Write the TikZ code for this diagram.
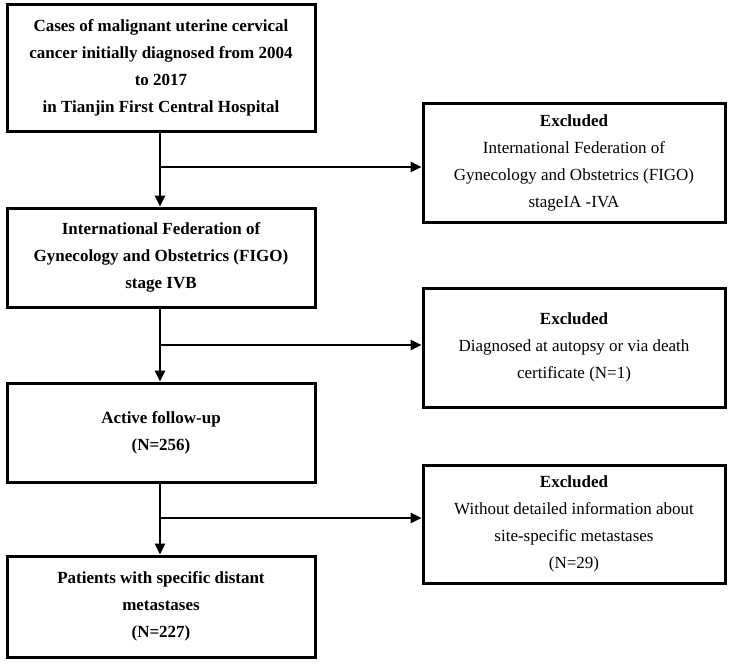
\documentclass[tikz,border=0pt]{standalone}
\usepackage{fontspec}
\setmainfont{Liberation Serif}
\usetikzlibrary{arrows.meta}
\begin{document}
\begin{tikzpicture}[x=1pt,y=1pt,
  box/.style={draw=black,line width=3pt,align=center,inner sep=0pt,
    font=\fontsize{17}{27}\selectfont},
  lbox/.style={box,minimum width=308pt},
  rbox/.style={box,minimum width=302pt},
  conn/.style={line width=2.5pt,-{Triangle[length=11pt,width=10pt]}},
  plain/.style={line width=2.5pt}]
\useasboundingbox (0,0) rectangle (732,-664);
\node[lbox,minimum height=127pt] (b1) at (161,-67.5) {\bfseries Cases of malignant uterine cervical\\ \bfseries cancer initially diagnosed from 2004\\ \bfseries to 2017\\ \bfseries in Tianjin First Central Hospital};
\node[lbox,minimum height=99pt] (b2) at (161,-257.5) {\bfseries International Federation of\\ \bfseries Gynecology and Obstetrics (FIGO)\\ \bfseries stage IVB};
\node[lbox,minimum height=99pt] (b3) at (161,-432.5) {\bfseries Active follow-up\\ \bfseries (N=256)};
\node[lbox,minimum height=101pt] (b4) at (161,-606.5) {\bfseries Patients with specific distant\\ \bfseries metastases\\ \bfseries (N=227)};
\node[rbox,minimum height=119pt] (r1) at (574,-162.5) {\bfseries Excluded\\ International Federation of\\ Gynecology and Obstetrics (FIGO)\\ stageIA -IVA};
\node[rbox,minimum height=119pt] (r2) at (574,-347.5) {\bfseries Excluded\\ Diagnosed at autopsy or via death\\ certificate (N=1)};
\node[rbox,minimum height=118pt] (r3) at (574,-524) {\bfseries Excluded\\ Without detailed information about\\ site-specific metastases\\ (N=29)};
\coordinate (j1) at (160,-167);
\coordinate (j2) at (160,-345);
\coordinate (j3) at (160,-518);
\draw[conn] (b1.south -| j1) -- (b2.north -| j1);
\draw[conn] (j1) -- (r1.west |- j1);
\draw[conn] (b2.south -| j2) -- (b3.north -| j2);
\draw[conn] (j2) -- (r2.west |- j2);
\draw[conn] (b3.south -| j3) -- (b4.north -| j3);
\draw[conn] (j3) -- (r3.west |- j3);
\end{tikzpicture}
\end{document}
